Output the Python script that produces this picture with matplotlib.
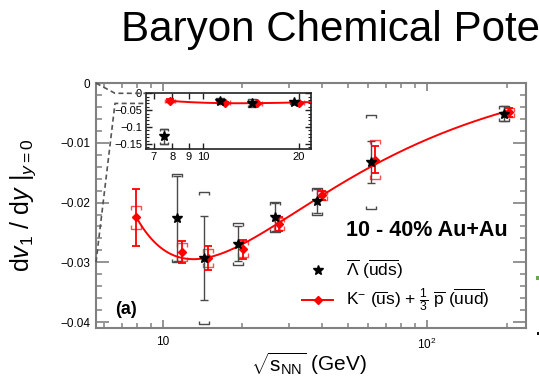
import numpy as np
import matplotlib
matplotlib.use('Agg')
import matplotlib.pyplot as plt
from matplotlib.path import Path
from matplotlib.lines import Line2D
from matplotlib.patches import Rectangle
from matplotlib.ticker import FixedLocator, FuncFormatter, LogLocator, MultipleLocator, NullFormatter

plt.rcParams['font.family'] = ['Liberation Sans', 'DejaVu Sans']
plt.rcParams['mathtext.fontset'] = 'custom'
plt.rcParams['mathtext.rm'] = 'Liberation Sans'
plt.rcParams['mathtext.it'] = 'Liberation Sans:italic'
plt.rcParams['mathtext.bf'] = 'Liberation Sans:bold'
plt.rcParams['mathtext.sf'] = 'Liberation Sans'

# ---------------- data ----------------
energy = [7.7, 11.5, 14.5, 19.6, 27, 39, 62.4, 200]

kp_val = [-0.0225, -0.0283, -0.0293, -0.0278, -0.0236, -0.0188, -0.0128, -0.0049]
kp_stat = [0.0047, 0.0019, 0.0020, 0.0016, 0.0011, 0.0008, 0.0022, 0.0008]
kp_sys = [0.0020, 0.0015, 0.0015, 0.0013, 0.0010, 0.0008, 0.0033, 0.0008]

lam_val = [-0.127, -0.0226, -0.0293, -0.0269, -0.0224, -0.0198, -0.0132, -0.0051]
lam_stat = [0.022, 0.0071, 0.0070, 0.0029, 0.0023, 0.0020, 0.0035, 0.0012]
lam_sys = [0.022, 0.0073, 0.0110, 0.0035, 0.0025, 0.0022, 0.0078, 0.0013]

main_yticks = [-0.04, -0.03, -0.02, -0.01, 0]
inset_yticks = [-0.15, -0.1, -0.05, 0]
inset_xticks = [7, 8, 9, 10, 20]

label_lam = r'$\overline{\Lambda}$ ($\overline{\mathrm{uds}}$)'
label_kp = r'K$^{-}$ ($\overline{\mathrm{u}}$s) + $\frac{1}{3}$ $\overline{\mathrm{p}}$ ($\overline{\mathrm{uud}}$)'

# ---------------- figure ----------------
W, H = 539, 376
fig = plt.figure(figsize=(W / 100, H / 100), dpi=100)
fig.patch.set_facecolor('white')


def fx(px):
    return px / W


def fy(py):
    return 1 - py / H


SPINE = '#808080'
LAMC = '#4a4a4a'
RED = '#ff0000'
REDSYS = '#ff5050'

top_br = Path([(-1, -0.6), (-1, 0), (1, 0), (1, -0.6)],
              [Path.MOVETO, Path.LINETO, Path.LINETO, Path.LINETO])
bot_br = Path([(-1, 0.6), (-1, 0), (1, 0), (1, 0.6)],
              [Path.MOVETO, Path.LINETO, Path.LINETO, Path.LINETO])
top_rb = Path([(-1, -0.7), (-1, 0), (1, 0), (1, -0.7)],
              [Path.MOVETO, Path.LINETO, Path.LINETO, Path.LINETO])
bot_rb = Path([(-1, 0.7), (-1, 0), (1, 0), (1, 0.7)],
              [Path.MOVETO, Path.LINETO, Path.LINETO, Path.LINETO])

e = np.array(energy)
xl = e * 0.982
xk = e * 1.022
kv, ks, ksy = np.array(kp_val), np.array(kp_stat), np.array(kp_sys)
lv, ls_, lsy = np.array(lam_val), np.array(lam_stat), np.array(lam_sys)

# smooth fit of the K + p points, cubic in 1/sqrt(sNN)
coef = np.polyfit(xk ** -0.5, kv, 3)
xfit = np.logspace(np.log10(xk[0]), np.log10(xk[-1]), 300)
yfit = np.polyval(coef, xfit ** -0.5)


def draw_data(a, ms_scale=1.0, brs=1.0):
    a.plot(xl, lv + lsy, ls='none', marker=top_br, ms=6.5 * brs, mfc='none', mec=LAMC, mew=1.0, zorder=3)
    a.plot(xl, lv - lsy, ls='none', marker=bot_br, ms=6.5 * brs, mfc='none', mec=LAMC, mew=1.0, zorder=3)
    a.plot(xk, kv + ksy, ls='none', marker=top_rb, ms=7.5 * brs, mfc='none', mec=REDSYS, mew=1.0, zorder=3)
    a.plot(xk, kv - ksy, ls='none', marker=bot_rb, ms=7.5 * brs, mfc='none', mec=REDSYS, mew=1.0, zorder=3)
    a.errorbar(xl, lv, yerr=ls_, fmt='none', ecolor=LAMC, elinewidth=1.0, capsize=3.0 * brs, capthick=1.0, zorder=4)
    a.plot(xfit, yfit, color=RED, lw=1.4, zorder=5)
    a.errorbar(xk, kv, yerr=ks, fmt='none', ecolor=RED, elinewidth=1.3, capsize=3.2 * brs, capthick=1.3, zorder=6)
    a.plot(xk, kv, ls='none', marker='D', ms=4.2 * ms_scale, color=RED, zorder=7)
    a.plot(xl, lv, ls='none', marker='*', ms=7.5 * ms_scale, color='black', zorder=8)


def minus_fmt(v, p):
    return '0' if abs(v) < 1e-9 else ('%g' % v).replace('-', '\u2212')


# ---------------- main axes ----------------
ax = fig.add_axes([fx(96), fy(328), fx(526) - fx(96), fy(82.5) - fy(328)])
ax.set_xscale('log')
ax.set_xlim(5.575, 237)
ax.set_ylim(-0.041, 0.0001)
draw_data(ax)

for s in ax.spines.values():
    s.set_color(SPINE)
    s.set_linewidth(1.5)
ax.yaxis.set_major_locator(FixedLocator(main_yticks))
ax.yaxis.set_minor_locator(MultipleLocator(0.002))
ax.yaxis.set_major_formatter(FuncFormatter(minus_fmt))
ax.xaxis.set_major_locator(FixedLocator([10, 100]))
ax.xaxis.set_major_formatter(FuncFormatter(lambda v, p: '10' if abs(v - 10) < 1e-6 else r'$10^{2}$'))
ax.xaxis.set_minor_locator(LogLocator(base=10, subs=np.arange(2, 10)))
ax.xaxis.set_minor_formatter(NullFormatter())
ax.tick_params(axis='y', which='major', direction='in', length=9.5, width=1.2, color=SPINE,
               left=True, right=True, labelsize=8.5, pad=4)
ax.tick_params(axis='y', which='minor', direction='in', length=4.3, width=1.1, color=SPINE, left=True, right=True)
ax.tick_params(axis='x', which='major', direction='in', length=6, width=1.2, color=SPINE,
               bottom=True, top=True, labelsize=8.5, pad=6)
ax.tick_params(axis='x', which='minor', direction='in', length=3.5, width=1.1, color=SPINE, bottom=True, top=True)

ax.text(fx(508), fy(230), '10 - 40% Au+Au', transform=fig.transFigure, ha='right', va='center',
        fontsize=15.5, fontweight='bold')
ax.text(fx(115), fy(310), '(a)', transform=fig.transFigure, ha='left', va='center',
        fontsize=13, fontweight='bold')

handles = [Line2D([], [], color='black', marker='*', ls='none', ms=7.5),
           Line2D([], [], color=RED, marker='D', ms=4.2, lw=1.4)]
leg = ax.legend(handles, [label_lam, label_kp], loc='upper left', bbox_to_anchor=(fx(302), fy(258)),
                bbox_transform=fig.transFigure, frameon=False, fontsize=12.5, borderpad=0,
                borderaxespad=0, handlelength=1.8, handletextpad=0.75, labelspacing=0.35)
leg.set_zorder(10)

# ---------------- inset ----------------
axi = fig.add_axes([fx(145.7), fy(149), fx(310.7) - fx(145.7), fy(93.3) - fy(149)])
axi.set_xscale('log')
axi.set_xlim(6.6, 21.8)
axi.set_ylim(-0.165, 0.0)
draw_data(axi, ms_scale=0.95, brs=0.9)
for s in axi.spines.values():
    s.set_color('#222222')
    s.set_linewidth(1.2)
axi.yaxis.set_major_locator(FixedLocator(inset_yticks))
axi.yaxis.set_minor_locator(MultipleLocator(0.01))
axi.yaxis.set_major_formatter(FuncFormatter(minus_fmt))
axi.xaxis.set_major_locator(FixedLocator(inset_xticks))
axi.xaxis.set_major_formatter(FuncFormatter(lambda v, p: '%d' % round(v)))
axi.xaxis.set_minor_locator(LogLocator(base=10, subs=np.arange(2, 10)))
axi.xaxis.set_minor_formatter(NullFormatter())
axi.tick_params(axis='both', which='major', direction='in', length=4, width=1.0, color='#222222',
                labelsize=8, pad=2.5, top=True, right=True)
axi.tick_params(axis='both', which='minor', direction='in', length=2, width=0.8, color='#222222',
                top=True, right=True)

# ---------------- zoom connector lines ----------------
inv = fig.transFigure.inverted()
for yv in [0.0, -0.03]:
    p0 = inv.transform(ax.transData.transform((ax.get_xlim()[0], yv)))
    p2 = inv.transform(axi.transData.transform((axi.get_xlim()[0], yv)))
    p1 = (fx(115), p2[1])
    fig.add_artist(Line2D([p0[0], p1[0], p2[0]], [p0[1], p1[1], p2[1]], transform=fig.transFigure,
                          color='#555555', lw=1.2, ls=(0, (3, 2)), zorder=1))

# ---------------- labels ----------------
fig.text(fx(23), fy(205), r'd$v_{1}$ / d$y$ $|_{y=0}$', rotation=90, ha='center', va='center', fontsize=18)
fig.text(fx(309), fy(364), r'$\sqrt{\mathrm{s}_{\mathrm{NN}}}$ (GeV)', ha='center', va='center', fontsize=15)
fig.text(fx(121), fy(41), 'Baryon Chemical Pote', ha='left', va='baseline', fontsize=30.3)

# small stray marks at the right edge of the slide crop
fig.add_artist(Rectangle((fx(535.5), fy(279.5)), fx(4), fy(0) - fy(3.5), transform=fig.transFigure,
                         color='#6aa84f', lw=0))
fig.add_artist(Rectangle((fx(536.5), fy(334.5)), fx(3), fy(0) - fy(2.5), transform=fig.transFigure,
                         color='#111111', lw=0))

fig.savefig('out.png', dpi=100, facecolor='white')
